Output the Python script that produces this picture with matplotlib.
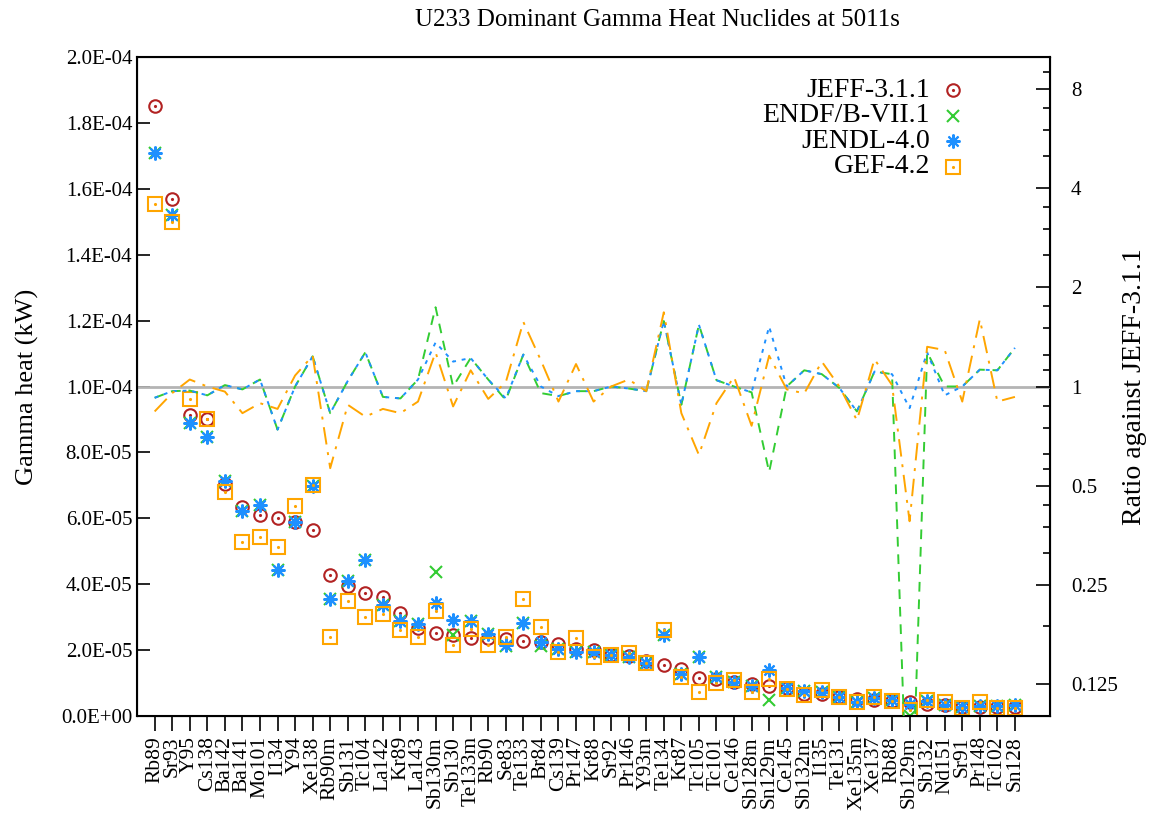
import matplotlib
matplotlib.use("Agg")
import matplotlib.pyplot as plt
from matplotlib.ticker import FixedLocator, FuncFormatter, NullFormatter

# nuclides in the order shown on the x axis
nuclides = [
    "Rb89", "Sr93", "Y95", "Cs138", "Ba142", "Ba141", "Mo101", "I134", "Y94", "Xe138",
    "Rb90m", "Sb131", "Tc104", "La142", "Kr89", "La143", "Sb130m", "Sb130", "Te133m", "Rb90",
    "Se83", "Te133", "Br84", "Cs139", "Pr147", "Kr88", "Sr92", "Pr146", "Y93m", "Te134",
    "Kr87", "Tc105", "Tc101", "Ce146", "Sb128m", "Sn129m", "Ce145", "Sb132m", "I135", "Te131",
    "Xe135m", "Xe137", "Rb88", "Sb129m", "Sb132", "Nd151", "Sr91", "Pr148", "Tc102", "Sn128",
]

# JEFF-3.1.1 gamma heat, in units of 1E-05 kW
jeff_heat = [
    18.5, 15.7, 9.15, 9.0, 7.05, 6.35, 6.1, 6.0, 5.9, 5.65,
    4.27, 3.95, 3.72, 3.62, 3.13, 2.66, 2.52, 2.46, 2.36, 2.36,
    2.33, 2.27, 2.24, 2.17, 2.02, 2.0, 1.85, 1.82, 1.67, 1.55,
    1.44, 1.16, 1.13, 1.02, 0.96, 0.91, 0.84, 0.68, 0.67, 0.57,
    0.52, 0.48, 0.44, 0.43, 0.36, 0.34, 0.27, 0.27, 0.26, 0.26,
]

# ratios against JEFF-3.1.1
endf_ratio = [
    0.924, 0.968, 0.972, 0.94, 1.01, 0.98, 1.05, 0.74, 1.0, 1.235,
    0.83, 1.04, 1.27, 0.93, 0.92, 1.05, 1.74, 1.0, 1.22, 1.05,
    0.91, 1.25, 0.955, 0.935, 0.968, 0.968, 1.0, 0.986, 0.968, 1.58,
    0.88, 1.54, 1.045, 1.0, 0.96, 0.55, 1.0, 1.12, 1.09, 0.99,
    0.84, 1.11, 1.09, 0.03, 1.27, 1.0, 1.0, 1.125, 1.12, 1.31,
]
jendl_ratio = [
    0.924, 0.968, 0.972, 0.94, 1.01, 0.98, 1.05, 0.74, 1.0, 1.235,
    0.83, 1.04, 1.27, 0.93, 0.92, 1.05, 1.36, 1.19, 1.22, 1.05,
    0.92, 1.25, 1.0, 0.935, 0.968, 0.968, 1.0, 0.986, 0.968, 1.58,
    0.88, 1.54, 1.045, 1.0, 0.96, 1.52, 1.0, 1.12, 1.09, 0.99,
    0.84, 1.11, 1.09, 0.86, 1.27, 0.94, 1.0, 1.125, 1.12, 1.31,
]
gef_ratio = [
    0.84, 0.955, 1.05, 1.0, 0.965, 0.83, 0.89, 0.855, 1.08, 1.24,
    0.565, 0.88, 0.81, 0.855, 0.83, 0.9, 1.27, 0.87, 1.12, 0.917,
    1.03, 1.57, 1.2, 0.9, 1.17, 0.9, 1.0, 1.05, 0.968, 1.68,
    0.83, 0.62, 0.89, 1.07, 0.76, 1.24, 0.98, 0.953, 1.19, 1.0,
    0.79, 1.21, 1.01, 0.39, 1.32, 1.29, 0.9, 1.6, 0.9, 0.93,
]

ratio_ticks = [0.125, 0.25, 0.5, 1, 2, 4, 8]
ratio_minor = [0.1875, 0.3125, 0.375, 0.4375, 0.5625, 0.625, 0.75, 0.875,
               1.125, 1.25, 1.5, 1.75, 2.5, 3, 3.5, 5, 6, 7, 9]

RED = "#b22222"
GREEN = "#33cc33"
BLUE = "#1e90ff"
ORANGE = "#ffa500"

plt.rcParams["font.family"] = ["Liberation Serif", "DejaVu Serif"]
plt.rcParams["font.size"] = 15


def draw_key(ax, ypos, label, **marker):
    """One legend row: right-aligned text, then the marker (axes coords)."""
    ax.text(0.8686, ypos, label, transform=ax.transAxes, ha="right",
            va="center", fontsize=20)
    ax.plot([0.8937], [ypos], transform=ax.transAxes, clip_on=False,
            ls="none", **marker)


def main() -> None:
    x = list(range(len(nuclides)))
    jeff = [v * 1e-5 for v in jeff_heat]
    endf = [j * r for j, r in zip(jeff, endf_ratio)]
    jendl = [j * r for j, r in zip(jeff, jendl_ratio)]
    gef = [j * r for j, r in zip(jeff, gef_ratio)]

    circle = dict(marker="o", ms=9, mfc="none", mec=RED, mew=1.5)
    cross = dict(marker="x", ms=9, color=GREEN, mew=1.5)
    star = dict(marker=(8, 2, 0), ms=10, color=BLUE, mew=1.5)
    square = dict(marker="s", ms=10, mfc="none", mec=ORANGE, mew=1.5)
    red_dot = dict(marker=".", ms=2.5, color=RED)
    orange_dot = dict(marker=".", ms=2.5, color=ORANGE)

    fig, ax = plt.subplots(figsize=(11.52, 8.18), dpi=100)
    fig.subplots_adjust(left=0.119, right=0.9115, bottom=0.1247, top=0.9303)

    # heat points (left axis)
    ax.plot(x, jeff, ls="none", **circle)
    ax.plot(x, jeff, ls="none", **red_dot)
    ax.plot(x, endf, ls="none", **cross)
    ax.plot(x, jendl, ls="none", **star)
    ax.plot(x, gef, ls="none", **square)
    ax.plot(x, gef, ls="none", **orange_dot)

    ax.set_xlim(-1, 51)
    ax.set_ylim(0, 2.0e-4)
    ax.set_yticks([i * 2e-5 for i in range(11)])
    ax.yaxis.set_major_formatter(FuncFormatter(lambda v, _: f"{v:.1E}"))
    ax.set_xticks(x)
    ax.set_xticklabels(nuclides, rotation=90, fontsize=15.5)
    ax.tick_params(axis="x", direction="out", length=11, width=1.2, top=False)
    ax.tick_params(axis="y", direction="in", length=9, width=1.2, right=False,
                   labelsize=15)
    ax.set_ylabel("Gamma heat (kW)", fontsize=19, labelpad=16)
    for s in ax.spines.values():
        s.set_linewidth(1.5)

    # ratio lines (right axis)
    ax2 = ax.twinx()
    ax2.set_yscale("log", base=2)
    ax2.set_ylim(0.1, 10)
    ax2.axhline(1, color="#b4b4b4", lw=2, zorder=1)
    ax2.plot(x, endf_ratio, color=GREEN, lw=1.4, ls=(0, (5, 4)), zorder=2)
    ax2.plot(x, jendl_ratio, color=BLUE, lw=1.4, ls=(0, (2, 3)), zorder=3)
    ax2.plot(x, gef_ratio, color=ORANGE, lw=1.4, ls=(0, (9, 4, 1.5, 4)), zorder=4)
    ax2.yaxis.set_major_locator(FixedLocator(ratio_ticks))
    ax2.yaxis.set_major_formatter(FuncFormatter(lambda v, _: f"{v:g}"))
    ax2.yaxis.set_minor_locator(FixedLocator(ratio_minor))
    ax2.yaxis.set_minor_formatter(NullFormatter())
    ax2.tick_params(axis="y", which="major", direction="in", length=10,
                    width=1.2, labelsize=15, pad=15)
    ax2.tick_params(axis="y", which="minor", direction="in", length=5, width=1.2)
    ax2.set_ylabel("Ratio against JEFF-3.1.1", fontsize=20, labelpad=3)

    # key in the upper right, text first, marker after
    draw_key(ax2, 0.9499, "JEFF-3.1.1", **circle)
    draw_key(ax2, 0.9499, "", **red_dot)
    draw_key(ax2, 0.9109, "ENDF/B-VII.1", **cross)
    draw_key(ax2, 0.8720, "JENDL-4.0", **star)
    draw_key(ax2, 0.8331, "GEF-4.2", **square)
    draw_key(ax2, 0.8331, "", **orange_dot)

    ax.set_title("U233 Dominant Gamma Heat Nuclides at 5011s", fontsize=18,
                 pad=22, x=0.5696)
    fig.savefig("out.png", dpi=100)


if __name__ == "__main__":
    main()
